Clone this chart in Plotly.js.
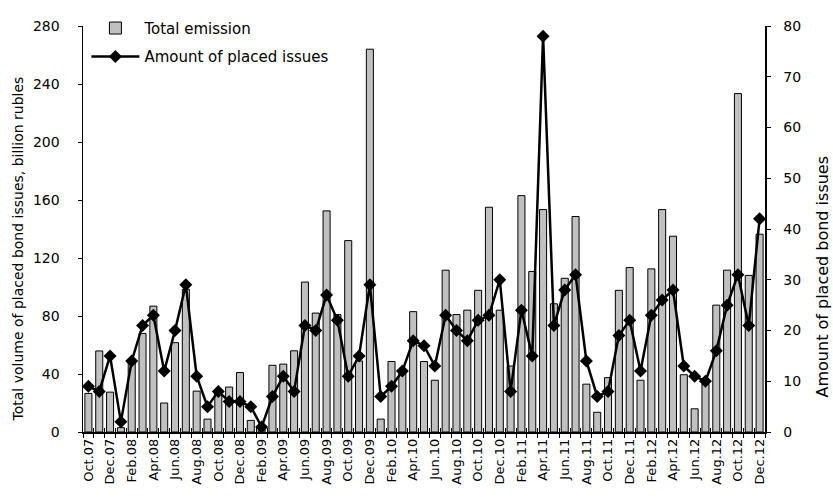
<!DOCTYPE html>
<html>
<head>
<meta charset="utf-8">
<script src="https://cdn.plot.ly/plotly-3.0.1.min.js"></script>
<style>html,body{margin:0;padding:0;background:#fff;}#chart{width:833px;height:497px;}</style>
</head>
<body>
<div id="chart"></div>
<script>
const months = ['Oct.07','Nov.07','Dec.07','Jan.08','Feb.08','Mar.08','Apr.08','May.08','Jun.08','Jul.08','Aug.08','Sep.08',
  'Oct.08','Nov.08','Dec.08','Jan.09','Feb.09','Mar.09','Apr.09','May.09','Jun.09','Jul.09','Aug.09','Sep.09',
  'Oct.09','Nov.09','Dec.09','Jan.10','Feb.10','Mar.10','Apr.10','May.10','Jun.10','Jul.10','Aug.10','Sep.10',
  'Oct.10','Nov.10','Dec.10','Jan.11','Feb.11','Mar.11','Apr.11','May.11','Jun.11','Jul.11','Aug.11','Sep.11',
  'Oct.11','Nov.11','Dec.11','Jan.12','Feb.12','Mar.12','Apr.12','May.12','Jun.12','Jul.12','Aug.12','Sep.12',
  'Oct.12','Nov.12','Dec.12'];

const totalEmission = [26.6, 55.9, 27.5, 3, 48, 68, 86.8, 20, 61.6, 98.4, 28.2, 8.9,
  28, 31, 41, 8, 1.5, 46, 46.8, 56, 103.4, 82, 152.5, 81,
  132, 49, 264, 8.9, 48.6, 42, 83, 48.6, 35.7, 111.6, 81, 84,
  97.7, 155, 84, 45.5, 163, 110.7, 153.4, 88.4, 106, 148.6, 33, 13.6,
  37.5, 97.7, 113.4, 35.7, 112.5, 153.4, 135, 39.5, 16, 33, 87.5, 111.6,
  233.4, 108, 136.4];

const placedIssues = [9, 8, 15, 2, 14, 21, 23, 12, 20, 29, 11, 5,
  8, 6, 6, 5, 1, 7, 11, 8, 21, 20, 27, 22,
  11, 15, 29, 7, 9, 12, 18, 17, 13, 23, 20, 18,
  22, 23, 30, 8, 24, 15, 78, 21, 28, 31, 14, 7,
  8, 19, 22, 12, 23, 26, 28, 13, 11, 10, 16, 25,
  31, 21, 42];

const seriesNames = ['Total emission', 'Amount of placed issues'];
const leftTitle = 'Total volume of placed bond issues, billion rubles';
const rightTitle = 'Amount of placed bond issues';

const FONT = 'DejaVu Sans, sans-serif';
const tickText = months.map((m, i) => (i % 2 === 0 ? m : ''));

const traces = [
  {
    type: 'bar', name: seriesNames[0], x: months, y: totalEmission,
    xaxis: 'x', yaxis: 'y', legendgroup: 'g1',
    marker: {color: '#c0c0c0', line: {color: '#000', width: 1}},
    hoverinfo: 'x+y'
  },
  {
    type: 'scatter', mode: 'lines+markers', name: seriesNames[1], x: months, y: placedIssues,
    xaxis: 'x2', yaxis: 'y2', legendgroup: 'g2',
    line: {color: '#000', width: 2.5},
    marker: {symbol: 'diamond', size: 10, color: '#000'}
  }
];

const layout = {
  width: 833, height: 497,
  margin: {l: 83, r: 68, t: 22, b: 65},
  paper_bgcolor: '#fff', plot_bgcolor: '#fff',
  font: {family: FONT, size: 13, color: '#000'},
  bargap: 0.35,
  showlegend: true,
  legend: {x: 0.005, y: 1.035, xanchor: 'left', yanchor: 'top', bgcolor: 'rgba(0,0,0,0)',
           font: {family: FONT, size: 15}, itemwidth: 48, tracegroupgap: 6},
  xaxis: {
    type: 'category', categoryorder: 'array', categoryarray: months,
    range: [-0.5, months.length - 0.5],
    tickmode: 'array', tickvals: months, ticktext: tickText, tickangle: -90,
    tickson: 'boundaries', ticks: 'outside', ticklen: 4, tickcolor: '#000', tickwidth: 1,
    showline: true, linecolor: '#000', linewidth: 1.5, showgrid: false, zeroline: false,
    tickfont: {family: FONT, size: 13}
  },
  xaxis2: {
    type: 'category', categoryorder: 'array', categoryarray: months,
    overlaying: 'x', anchor: 'y', matches: 'x',
    range: [-0.5, months.length - 0.5],
    tickmode: 'array', tickvals: months, showticklabels: false,
    tickson: 'boundaries', ticks: 'inside', ticklen: 4, tickcolor: '#000', tickwidth: 1,
    showline: false, showgrid: false, zeroline: false
  },
  yaxis: {
    range: [0, 280], tickmode: 'linear', tick0: 0, dtick: 40,
    ticks: 'outside', ticklen: 4, tickcolor: '#000', tickwidth: 1,
    showline: true, linecolor: '#000', linewidth: 1.5, showgrid: false, zeroline: false,
    tickfont: {family: FONT, size: 14}, ticklabelstandoff: 15
  },
  yaxis2: {
    range: [0, 80], tickmode: 'linear', tick0: 0, dtick: 10,
    overlaying: 'y', side: 'right', anchor: 'x',
    ticks: 'outside', ticklen: 4, tickcolor: '#000', tickwidth: 1,
    showline: true, linecolor: '#000', linewidth: 1.5, showgrid: false, zeroline: false,
    tickfont: {family: FONT, size: 14}, ticklabelstandoff: 10
  },
  yaxis3: {
    range: [0, 280], tickmode: 'linear', tick0: 0, dtick: 40,
    overlaying: 'y', anchor: 'x', side: 'left',
    ticks: 'inside', ticklen: 4, tickcolor: '#000', tickwidth: 1,
    showticklabels: false, showline: false, showgrid: false, zeroline: false
  },
  yaxis4: {
    range: [0, 80], tickmode: 'linear', tick0: 0, dtick: 10,
    overlaying: 'y', anchor: 'x', side: 'right',
    ticks: 'inside', ticklen: 4, tickcolor: '#000', tickwidth: 1,
    showticklabels: false, showline: false, showgrid: false, zeroline: false
  },
  annotations: [
    {text: leftTitle, xref: 'paper', yref: 'paper', x: -0.095, y: 0.45,
     xanchor: 'center', yanchor: 'middle', textangle: -90, showarrow: false,
     font: {family: FONT, size: 14}},
    {text: rightTitle, xref: 'paper', yref: 'paper', x: 1.085, y: 0.383,
     xanchor: 'center', yanchor: 'middle', textangle: -90, showarrow: false,
     font: {family: FONT, size: 16}}
  ]
};

Plotly.newPlot('chart', traces, layout, {displayModeBar: false, staticPlot: true});
</script>
</body>
</html>
